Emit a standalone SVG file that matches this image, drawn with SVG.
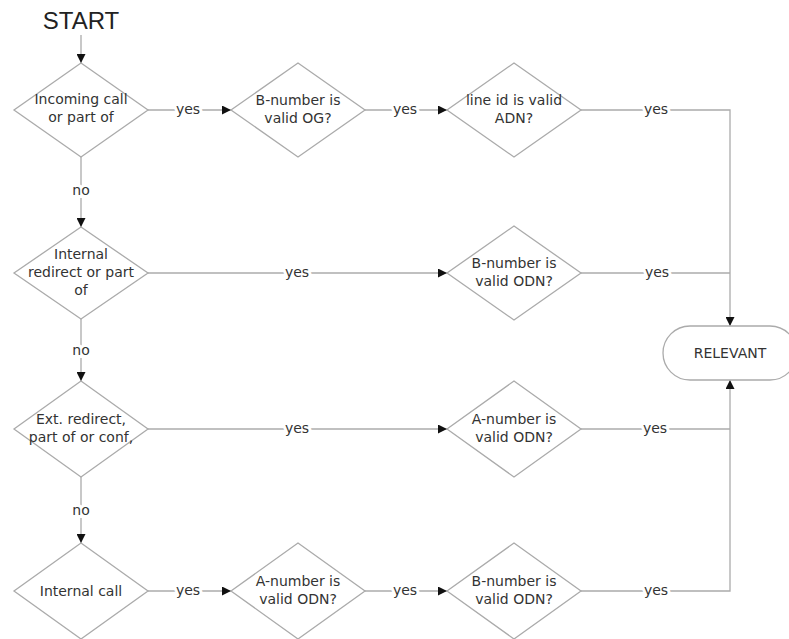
<svg xmlns="http://www.w3.org/2000/svg" width="789" height="639" viewBox="0 0 789 639">
<style>
.shape{fill:#fff;stroke:#ababab;stroke-width:1.3}
.line{fill:none;stroke:#ababab;stroke-width:1.3}
.t{font-family:"DejaVu Sans",sans-serif;font-size:14px;fill:#333;text-anchor:middle}
.lbl{font-family:"DejaVu Sans",sans-serif;font-size:14px;fill:#333;text-anchor:middle;paint-order:stroke;stroke:#fff;stroke-width:6px}
.start{font-family:"Liberation Sans",sans-serif;font-size:24px;fill:#222;text-anchor:middle}
</style>
<defs>
<marker id="ah" viewBox="0 0 10 10" refX="10" refY="5" markerWidth="9" markerHeight="9" markerUnits="userSpaceOnUse" orient="auto">
<path d="M0,0 L10,5 L0,10 Z" fill="#111"/>
</marker>
</defs>
<rect width="789" height="639" fill="#fff"/>
<g id="connectors">
<line class="line" x1="81" y1="35" x2="81" y2="63" marker-end="url(#ah)"/>
<line class="line" x1="81" y1="157" x2="81" y2="227" marker-end="url(#ah)"/>
<line class="line" x1="81" y1="319" x2="81" y2="381" marker-end="url(#ah)"/>
<line class="line" x1="81" y1="477" x2="81" y2="543" marker-end="url(#ah)"/>
<line class="line" x1="148" y1="110" x2="231" y2="110" marker-end="url(#ah)"/>
<line class="line" x1="365" y1="110" x2="447" y2="110" marker-end="url(#ah)"/>
<polyline class="line" points="581,110 730,110 730,326" marker-end="url(#ah)"/>
<line class="line" x1="148" y1="273" x2="447" y2="273" marker-end="url(#ah)"/>
<line class="line" x1="581" y1="273" x2="730" y2="273"/>
<line class="line" x1="148" y1="429" x2="447" y2="429" marker-end="url(#ah)"/>
<line class="line" x1="581" y1="429" x2="730" y2="429"/>
<line class="line" x1="148" y1="591" x2="231" y2="591" marker-end="url(#ah)"/>
<line class="line" x1="365" y1="591" x2="447" y2="591" marker-end="url(#ah)"/>
<polyline class="line" points="581,591 730,591 730,380" marker-end="url(#ah)"/>
<text class="lbl" x="81" y="195">no</text>
<text class="lbl" x="81" y="355">no</text>
<text class="lbl" x="81" y="515">no</text>
<text class="lbl" x="188" y="114">yes</text>
<text class="lbl" x="405" y="114">yes</text>
<text class="lbl" x="656" y="114">yes</text>
<text class="lbl" x="297" y="277">yes</text>
<text class="lbl" x="657" y="277">yes</text>
<text class="lbl" x="297" y="433">yes</text>
<text class="lbl" x="655" y="433">yes</text>
<text class="lbl" x="188" y="595">yes</text>
<text class="lbl" x="405" y="595">yes</text>
<text class="lbl" x="656" y="595">yes</text>
</g>
<g id="start"><text class="start" x="81" y="29">START</text></g>
<g id="incoming">
<polygon class="shape" points="81,63 148,110 81,157 14,110"/>
<text class="t" x="81" y="104">Incoming call</text>
<text class="t" x="81" y="122">or part of</text>
</g>
<g id="bnum-og">
<polygon class="shape" points="298,63 365,110 298,157 231,110"/>
<text class="t" x="298" y="105">B-number is</text>
<text class="t" x="298" y="123">valid OG?</text>
</g>
<g id="lineid-adn">
<polygon class="shape" points="514,63 581,110 514,157 447,110"/>
<text class="t" x="514" y="105">line id is valid</text>
<text class="t" x="514" y="123">ADN?</text>
</g>
<g id="internal-redirect">
<polygon class="shape" points="81,227 148,273 81,319 14,273"/>
<text class="t" x="81" y="259">Internal</text>
<text class="t" x="81" y="277">redirect or part</text>
<text class="t" x="81" y="295">of</text>
</g>
<g id="bnum-odn-2">
<polygon class="shape" points="514,226 581,273 514,320 447,273"/>
<text class="t" x="514" y="268">B-number is</text>
<text class="t" x="514" y="286">valid ODN?</text>
</g>
<g id="relevant">
<rect class="shape" x="663" y="326" width="134" height="54" rx="27" ry="27"/>
<text class="t" x="730" y="358">RELEVANT</text>
</g>
<g id="ext-redirect">
<polygon class="shape" points="81,381 148,429 81,477 14,429"/>
<text class="t" x="81" y="424">Ext. redirect,</text>
<text class="t" x="81" y="442">part of or conf,</text>
</g>
<g id="anum-odn-3">
<polygon class="shape" points="514,381 581,429 514,477 447,429"/>
<text class="t" x="514" y="424">A-number is</text>
<text class="t" x="514" y="442">valid ODN?</text>
</g>
<g id="internal-call">
<polygon class="shape" points="81,543 148,591 81,639 14,591"/>
<text class="t" x="81" y="596">Internal call</text>
</g>
<g id="anum-odn-4">
<polygon class="shape" points="298,543 365,591 298,639 231,591"/>
<text class="t" x="298" y="586">A-number is</text>
<text class="t" x="298" y="604">valid ODN?</text>
</g>
<g id="bnum-odn-4">
<polygon class="shape" points="514,543 581,591 514,639 447,591"/>
<text class="t" x="514" y="586">B-number is</text>
<text class="t" x="514" y="604">valid ODN?</text>
</g>
</svg>
